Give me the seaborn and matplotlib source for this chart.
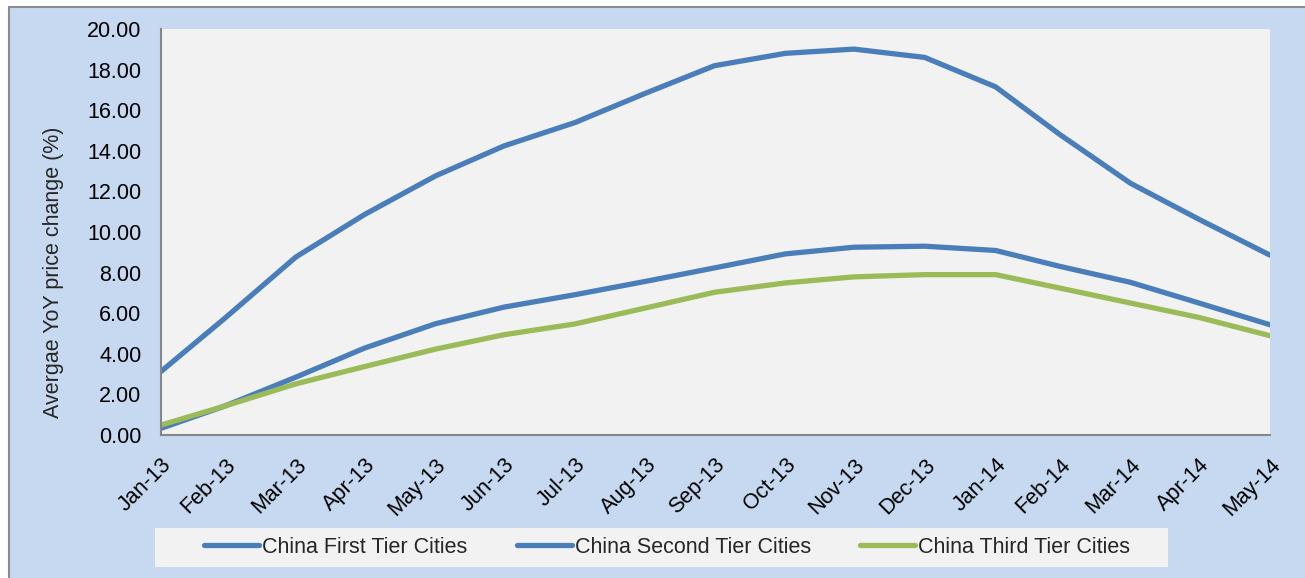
import numpy as np
import pandas as pd
import matplotlib
matplotlib.use('Agg')
import matplotlib.pyplot as plt
import seaborn as sns
from matplotlib.patches import Rectangle
from matplotlib.ticker import FormatStrFormatter

# --- 数据 ---
months = ['Jan-13', 'Feb-13', 'Mar-13', 'Apr-13', 'May-13', 'Jun-13', 'Jul-13', 'Aug-13',
          'Sep-13', 'Oct-13', 'Nov-13', 'Dec-13', 'Jan-14', 'Feb-14', 'Mar-14', 'Apr-14', 'May-14']
first_tier = [3.13, 5.76, 8.77, 10.86, 12.76, 14.24, 15.39, 16.84, 18.19, 18.80, 19.01, 18.60,
              17.15, 14.81, 12.40, 10.62, 8.86]
second_tier = [0.33, 1.43, 2.85, 4.28, 5.48, 6.30, 6.91, 7.57, 8.23, 8.92, 9.25, 9.30,
               9.09, 8.31, 7.52, 6.50, 5.43]
third_tier = [0.49, 1.43, 2.52, 3.37, 4.23, 4.94, 5.47, 6.26, 7.03, 7.49, 7.79, 7.90,
              7.90, 7.24, 6.50, 5.79, 4.89]
series_names = ['China First Tier Cities', 'China Second Tier Cities', 'China Third Tier Cities']
colors = ['#4A7EBB', '#4A7EBB', '#9BBB59']

# 月末日期（Excel 日期轴）
dates = pd.to_datetime(months, format='%b-%y') + pd.offsets.MonthEnd(0)

df = pd.DataFrame({
    'date': np.tile(dates, 3),
    'value': first_tier + second_tier + third_tier,
    'series': np.repeat(series_names, len(months)),
})

sns.set_style('white')
plt.rcParams['font.family'] = ['Liberation Sans', 'DejaVu Sans']
FS = 15.5

fig = plt.figure(figsize=(13.05, 5.78), dpi=100)
fig.patch.set_facecolor('white')
W, H = 1305, 578
# 图表外框（浅蓝背景）
fig.add_artist(Rectangle((9 / W, -0.05), 1.1, (578 - 7) / H + 0.05, transform=fig.transFigure,
                         facecolor='#C6D9F1', edgecolor='#8C8C8C', linewidth=1.5, zorder=-2))

ax = fig.add_axes([161 / W, 1 - 435 / H, (1270 - 161) / W, (435 - 29) / H])
ax.set_facecolor('#F2F2F2')

sns.lineplot(data=df, x='date', y='value', hue='series', hue_order=series_names,
             palette=dict(zip(series_names, colors)), linewidth=3.8, ax=ax, legend=False)

ax.set_xlim(dates[0], dates[-1])
ax.set_ylim(0, 20)
ax.set_yticks(np.arange(0, 21, 2))
ax.yaxis.set_major_formatter(FormatStrFormatter('%.2f'))
ax.set_xticks(dates)
ax.set_xticklabels(months, rotation=45, ha='right', rotation_mode='anchor')
ax.tick_params(axis='both', direction='in', length=5, width=1.2, color='#868686',
               labelsize=FS, labelcolor='black')
ax.tick_params(axis='x', pad=14)
ax.tick_params(axis='y', pad=14)
for side in ['top', 'right']:
    ax.spines[side].set_visible(False)
for side in ['left', 'bottom']:
    ax.spines[side].set_color('#868686')
    ax.spines[side].set_linewidth(1.5)
ax.set_xlabel('')
ax.set_ylabel('Avergae YoY price change (%)', fontsize=FS)
ax.yaxis.set_label_coords(-97 / (1270 - 161), (435 - 272) / 406)

# 图例框
fig.add_artist(Rectangle((155 / W, 1 - 567 / H), (1168 - 155) / W, 39 / H, transform=fig.transFigure,
                         facecolor='#F2F2F2', edgecolor='none', zorder=1))
handles = [plt.Line2D([], [], color=c, linewidth=3.8) for c in colors]
fig.legend(handles, series_names, loc='center', bbox_to_anchor=(667 / W, 1 - 547.5 / H),
           ncol=3, frameon=False, fontsize=FS, handlelength=2.55, handletextpad=0.14,
           columnspacing=2.3)

fig.savefig('out.png', dpi=100)
